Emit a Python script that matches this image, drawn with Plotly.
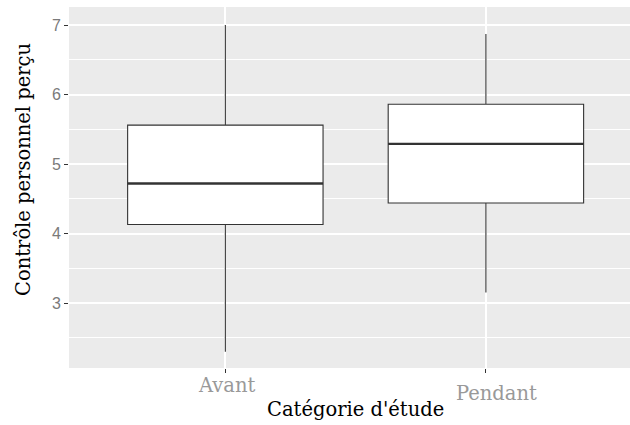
import plotly.graph_objects as go

categories = ["Avant", "Pendant"]
positions = [1, 2]
lower_whisker = [2.30, 3.15]
q1_values = [4.13, 4.44]
median_values = [4.72, 5.29]
q3_values = [5.56, 5.86]
upper_whisker = [7.00, 6.87]
y_ticks = [3, 4, 5, 6, 7]
box_width = 0.75

W, H = 630, 425
ML, MT, MB, MR = 69, 7, 57, 0
pw = W - ML - MR
ph = H - MT - MB

fig = go.Figure()
for i, cat in enumerate(categories):
    fig.add_trace(go.Box(
        x=[positions[i]],
        q1=[q1_values[i]], median=[median_values[i]], q3=[q3_values[i]],
        lowerfence=[lower_whisker[i]], upperfence=[upper_whisker[i]],
        width=box_width, whiskerwidth=0,
        fillcolor="white",
        line=dict(color="#333333", width=1.1),
        name=cat, showlegend=False, hoverinfo="skip",
    ))
    fig.add_trace(go.Scatter(
        x=[positions[i] - box_width / 2, positions[i] + box_width / 2],
        y=[median_values[i], median_values[i]],
        mode="lines", line=dict(color="#333333", width=2.4),
        showlegend=False, hoverinfo="skip",
    ))

serif = "DejaVu Serif"
fig.update_layout(
    width=W, height=H,
    margin=dict(l=ML, r=MR, t=MT, b=MB),
    paper_bgcolor="white", plot_bgcolor="#EBEBEB",
    xaxis=dict(range=[0.4, 2.553], tickvals=positions, ticktext=["", ""],
               showgrid=True, gridcolor="white", gridwidth=1.5,
               zeroline=False, ticks="outside", ticklen=4, tickcolor="#333333",
               tickwidth=1, showline=False),
    yaxis=dict(range=[2.065, 7.26], tickvals=y_ticks,
               showgrid=True, gridcolor="white", gridwidth=1.5,
               minor=dict(dtick=0.5, showgrid=True, gridcolor="white", gridwidth=0.7, ticks=""),
               zeroline=False, ticks="outside", ticklen=4, tickcolor="#333333",
               tickfont=dict(family="Liberation Sans", size=16, color="#7a7a7a"),
               showline=False),
)

def px_x(px):
    return (px - ML) / pw

def px_y(py):
    return (H - MB - py) / ph

annos = [
    dict(text="Contrôle personnel perçu", x=px_x(23), y=px_y(170), textangle=-90,
         font=dict(family=serif, size=19.5, color="black")),
    dict(text="Catégorie d'étude", x=px_x(355), y=px_y(409),
         font=dict(family=serif, size=19.5, color="black")),
    dict(text=categories[0], x=px_x(226), y=px_y(385),
         font=dict(family=serif, size=19.5, color="#999999")),
    dict(text=categories[1], x=px_x(496), y=px_y(393),
         font=dict(family=serif, size=19.5, color="#999999")),
]
for a in annos:
    fig.add_annotation(xref="paper", yref="paper", showarrow=False,
                       xanchor="center", yanchor="middle", **a)

fig.write_html("out.html", config={"displayModeBar": False},
               post_script="document.body.style.margin='0';")
